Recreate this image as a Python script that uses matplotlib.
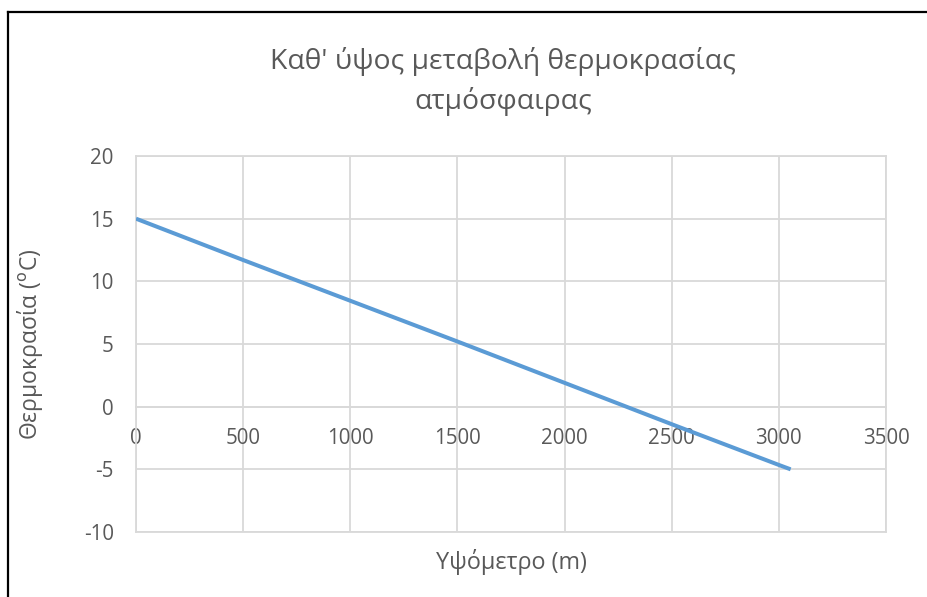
import matplotlib
matplotlib.use("Agg")
import matplotlib.pyplot as plt
from matplotlib.lines import Line2D

plt.rcParams['font.family'] = ['Open Sans', 'DejaVu Sans']
plt.rcParams['axes.unicode_minus'] = False

# Altitude (m) and air temperature (°C)
altitude = [0, 500, 1000, 1500, 2000, 2500, 3000, 3055]
temperature = [15, 11.7, 8.45, 5.2, 1.9, -1.4, -4.65, -5.0]

x_ticks = [0, 500, 1000, 1500, 2000, 2500, 3000, 3500]
y_ticks = [-10, -5, 0, 5, 10, 15, 20]

title = "Καθ' ύψος μεταβολή θερμοκρασίας\nατμόσφαιρας"
x_label = "Υψόμετρο (m)"
y_label = "Θερμοκρασία ($^{\\mathrm{o}}$C)"

W, H = 928, 597
fig = plt.figure(figsize=(W / 100, H / 100), dpi=100)
ax = fig.add_axes([136 / W, 1 - 532 / H, 750 / W, 376 / H])

grid_col = "#d9d9d9"
text_col = "#595959"

ax.plot(altitude, temperature, color="#5b9bd5", lw=2.9, solid_capstyle="butt", zorder=3)

ax.set_xlim(0, 3500)
ax.set_ylim(-10, 20)
ax.set_xticks(x_ticks)
ax.set_yticks(y_ticks)
ax.grid(True, color=grid_col, lw=1.3)
ax.set_axisbelow(True)

for side in ["left", "right", "top", "bottom"]:
    ax.spines[side].set_color(grid_col)
    ax.spines[side].set_linewidth(1.3)
ax.spines["bottom"].set_position(("data", 0))
ax.axhline(-10, color=grid_col, lw=1.3, clip_on=False, zorder=0)

ax.tick_params(axis="both", length=0, labelsize=14.8, labelcolor=text_col)
ax.tick_params(axis="x", pad=15)
ax.tick_params(axis="y", pad=16)

fig.text(30 / W, 1 - 344 / H, y_label, rotation=90, ha="center", va="center",
         fontsize=16.5, color=text_col)
fig.text(511 / W, 1 - 562 / H, x_label, ha="center", va="center",
         fontsize=16.8, color=text_col)
fig.text(503 / W, 1 - 81 / H, title, ha="center", va="center",
         fontsize=20.3, color=text_col, linespacing=1.5)

# outer frame (left and top edges)
fig.add_artist(Line2D([7.5 / W, 7.5 / W], [0, 1 - 11.5 / H], transform=fig.transFigure,
                      color="black", lw=1.6))
fig.add_artist(Line2D([7.5 / W, 1], [1 - 11.5 / H, 1 - 11.5 / H], transform=fig.transFigure,
                      color="black", lw=1.6))

fig.savefig("out.png", dpi=100, facecolor="white")
